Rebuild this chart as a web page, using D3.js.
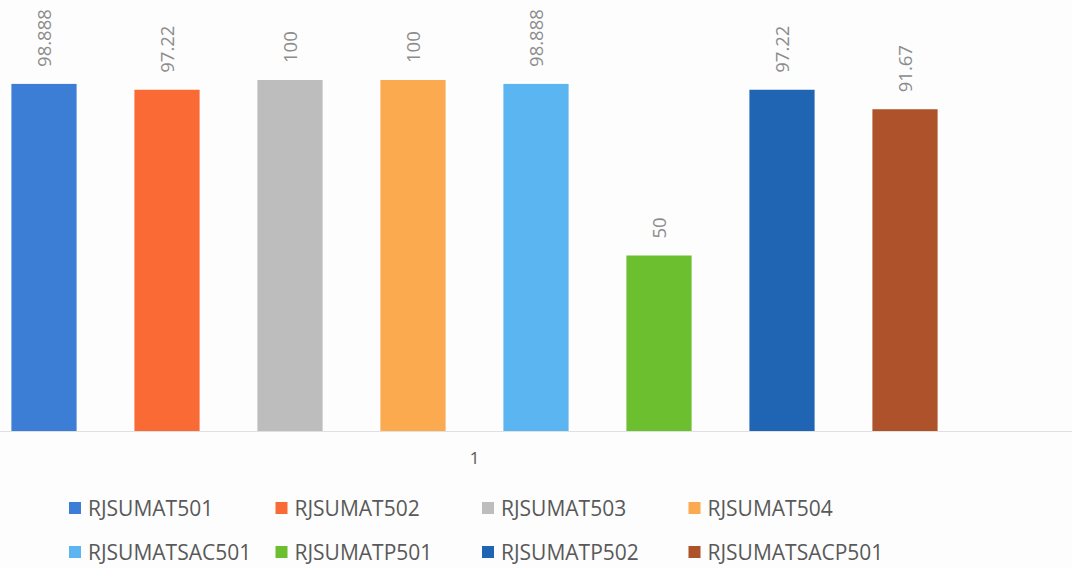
<!DOCTYPE html>
<html>
<head>
<meta charset="utf-8">
<script src="https://cdn.jsdelivr.net/npm/d3@7"></script>
<style>
	html, body { margin: 0; padding: 0; background: #fdfdfd; }
	svg { display: block; font-family: 'Open Sans', sans-serif; }
</style>
</head>
<body>
<script>
var categories = ['1'];
var seriesNames = ['RJSUMAT501', 'RJSUMAT502', 'RJSUMAT503', 'RJSUMAT504', 'RJSUMATSAC501', 'RJSUMATP501', 'RJSUMATP502', 'RJSUMATSACP501'];
var seriesValues = [98.888, 97.22, 100, 100, 98.888, 50, 97.22, 91.67];
var seriesLabels = ['98.888', '97.22', '100', '100', '98.888', '50', '97.22', '91.67'];
var seriesColors = ['#3c7dd6', '#fa6a35', '#bdbdbd', '#fbaa4f', '#5ab5f0', '#6cbf2f', '#1f65b3', '#ad522b'];

var width = 1072;
var height = 568;
var baseline = 431;

var svg = d3.select('body')
	.append('svg')
	.attr('width', width)
	.attr('height', height);

var xCat = d3.scaleBand()
	.domain(categories)
	.range([-17.5, 966.5]);

var xSeries = d3.scaleBand()
	.domain(seriesNames)
	.range([0, xCat.bandwidth()])
	.paddingInner(0.47)
	.paddingOuter(0.235);

var yScale = d3.scaleLinear()
	.domain([0, 100])
	.range([baseline, 80]);

// baseline
svg.append('line')
	.attr('x1', 0)
	.attr('x2', width)
	.attr('y1', baseline + 0.5)
	.attr('y2', baseline + 0.5)
	.attr('stroke', '#e0e0e0')
	.attr('stroke-width', 1);

var group = svg.selectAll('g.cat')
	.data(categories)
	.enter()
	.append('g')
	.attr('class', 'cat')
	.attr('transform', function(d) {
		return 'translate(' + xCat(d) + ',0)';
	});

var bars = seriesNames.map(function(name, i) {
	return { name: name, value: seriesValues[i], label: seriesLabels[i], color: seriesColors[i] };
});

group.selectAll('rect')
	.data(bars)
	.enter()
	.append('rect')
	.attr('x', function(d) { return xSeries(d.name); })
	.attr('width', xSeries.bandwidth())
	.attr('y', function(d) { return yScale(d.value); })
	.attr('height', function(d) { return baseline - yScale(d.value); })
	.attr('fill', function(d) { return d.color; });

group.selectAll('text.value')
	.data(bars)
	.enter()
	.append('text')
	.attr('class', 'value')
	.attr('transform', function(d) {
		var x = xSeries(d.name) + xSeries.bandwidth() / 2;
		var y = yScale(d.value) - 17;
		return 'translate(' + x + ',' + y + ') rotate(-90)';
	})
	.attr('dy', '0.36em')
	.attr('text-anchor', 'start')
	.attr('font-size', 18.5)
	.attr('fill', '#8c8c8c')
	.text(function(d) { return d.label; });

// category label
var xAxis = d3.axisBottom(xCat).tickSize(0).tickPadding(0);
var axisG = svg.append('g')
	.attr('transform', 'translate(0,' + (baseline + 21) + ')')
	.call(xAxis);
axisG.select('.domain').remove();
axisG.selectAll('text')
	.attr('font-size', 17)
	.attr('font-family', 'Open Sans, sans-serif')
	.attr('fill', '#595959')
	.attr('dy', '0.71em');

// legend
var legend = svg.append('g')
	.selectAll('g')
	.data(bars)
	.enter()
	.append('g')
	.attr('transform', function(d, i) {
		var col = i % 4;
		var row = Math.floor(i / 4);
		return 'translate(' + (69 + col * 206.5) + ',' + (508 + row * 44) + ')';
	});

legend.append('rect')
	.attr('x', 0)
	.attr('y', -6)
	.attr('width', 12)
	.attr('height', 12)
	.attr('fill', function(d) { return d.color; });

legend.append('text')
	.attr('x', 19)
	.attr('y', 0)
	.attr('dy', '0.36em')
	.attr('font-size', 21)
	.attr('fill', '#595959')
	.text(function(d) { return d.name; });
</script>
</body>
</html>
